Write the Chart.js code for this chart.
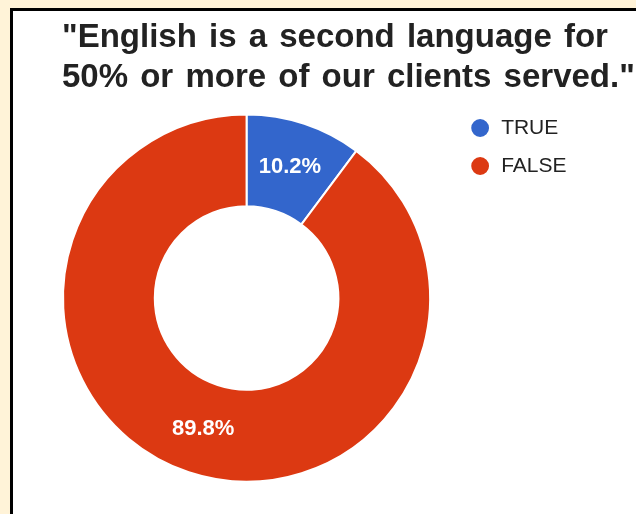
<!DOCTYPE html>
<html>
<head>
<meta charset="utf-8">
<script src="https://cdn.jsdelivr.net/npm/chart.js@4.4.0/dist/chart.umd.min.js"></script>
<style>
html, body { margin: 0; padding: 0; width: 636px; height: 514px; overflow: hidden; background: #fff3d8; }
#frame { position: absolute; left: 10px; top: 8px; width: 700px; height: 600px; background: #ffffff; border-left: 3px solid #000; border-top: 3px solid #000; }
#wrap { position: absolute; left: 0; top: 0; width: 636px; height: 514px; }
</style>
</head>
<body>
<div id="frame"></div>
<div id="wrap"><canvas id="c"></canvas></div>
<script>
const titleLines = ['"English is a second language for', '50% or more of our clients served."'];
const categories = ['TRUE', 'FALSE'];
const values = [10.2, 89.8];
const sliceColors = ['#3366cc', '#dc3912'];

const FONT = '"Liberation Sans", Arial, sans-serif';

const sliceLabels = {
  id: 'sliceLabels',
  afterDatasetsDraw(chart) {
    const ctx = chart.ctx;
    const meta = chart.getDatasetMeta(0);
    const data = chart.data.datasets[0].data;
    const total = data.reduce((a, b) => a + b, 0);
    ctx.save();
    ctx.font = 'bold 22px ' + FONT;
    ctx.fillStyle = '#ffffff';
    ctx.textAlign = 'center';
    ctx.textBaseline = 'middle';
    meta.data.forEach((arc, i) => {
      const p = arc.tooltipPosition();
      ctx.fillText((data[i] / total * 100).toFixed(1) + '%', p.x, p.y);
    });
    ctx.restore();
  }
};

const layoutTweaks = {
  id: 'layoutTweaks',
  afterLayout(chart) {
    const lg = chart.legend;
    const dx = 21.5;
    lg.left += dx;
    lg.right += dx;
    if (chart.titleBlock) chart.titleBlock.right = chart.width;
  },
  beforeDraw(chart) {
    chart.ctx.wordSpacing = '3px';
  },
  beforeDatasetsDraw(chart) {
    chart.ctx.wordSpacing = '0px';
  }
};

new Chart(document.getElementById('c'), {
  type: 'doughnut',
  data: {
    labels: categories,
    datasets: [{
      data: values,
      backgroundColor: sliceColors,
      borderColor: '#ffffff',
      borderWidth: 2,
      hoverBorderWidth: 2,
      hoverOffset: 0,
      offset: 0
    }]
  },
  options: {
    responsive: true,
    maintainAspectRatio: false,
    animation: false,
    events: [],
    cutout: '50%',
    layout: { padding: { left: 62, top: 0, right: 81, bottom: 18.5 } },
    plugins: {
      title: {
        display: true,
        text: titleLines,
        align: 'start',
        color: '#222222',
        font: { family: FONT, size: 33, weight: 'bold', lineHeight: 40 / 33 },
        padding: { top: 17.6, bottom: 2.9 }
      },
      legend: {
        display: true,
        position: 'right',
        align: 'start',
        fullSize: false,
        labels: {
          usePointStyle: true,
          pointStyle: 'circle',
          boxWidth: 21,
          boxHeight: 14,
          padding: 17,
          color: '#222222',
          font: { family: FONT, size: 21 }
        }
      },
      tooltip: { enabled: false }
    }
  },
  plugins: [sliceLabels, layoutTweaks]
});
</script>
</body>
</html>
